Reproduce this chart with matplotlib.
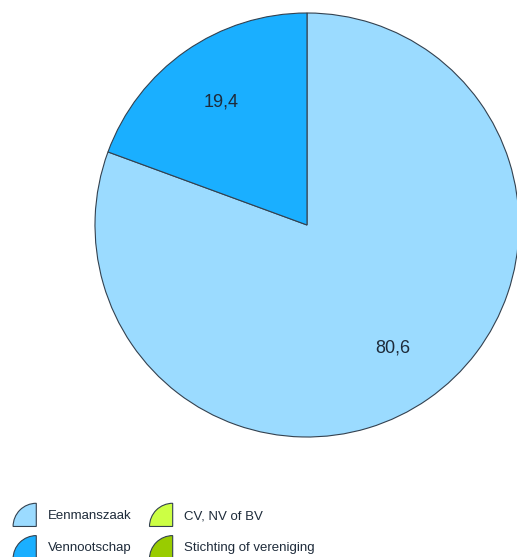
import matplotlib.pyplot as plt
from matplotlib.patches import Wedge, Patch
from matplotlib.legend_handler import HandlerPatch

plt.rcParams['font.family'] = ['Liberation Sans', 'DejaVu Sans']

categories = ['Eenmanszaak', 'Vennootschap', 'CV, NV of BV', 'Stichting of vereniging']
values = [80.6, 19.4, 0.0, 0.0]
colors = ['#9BDBFF', '#1AAFFF', '#CCFF44', '#99CC00']
edge = '#33414F'
text_col = '#1E2B3A'


class QuarterHandler(HandlerPatch):
    # legend symbool: kwartcirkel
    def create_artists(self, legend, orig_handle, xdescent, ydescent,
                       width, height, fontsize, trans):
        r = width * 0.95
        w = Wedge((xdescent + width, -ydescent - 2), r, 90, 180,
                  facecolor=orig_handle.get_facecolor(),
                  edgecolor=edge, lw=0.8, transform=trans)
        return [w]


fig = plt.figure(figsize=(5.17, 5.57), dpi=100)
ax = fig.add_axes([95 / 517, 120 / 557, 424 / 517, 424 / 557])

shown = [i for i, v in enumerate(values) if v > 0]
wedges, texts = ax.pie([values[i] for i in shown],
                       colors=[colors[i] for i in shown],
                       startangle=90, counterclock=False,
                       labels=[f"{values[i]:.1f}".replace('.', ',') for i in shown],
                       labeldistance=0.71,
                       wedgeprops=dict(edgecolor=edge, linewidth=0.8),
                       textprops=dict(fontsize=13, color=text_col))
for t in texts:
    t.set_horizontalalignment('center')
    t.set_verticalalignment('center')
for w in wedges:
    w.set_clip_on(False)
ax.set_xlim(-1, 1)
ax.set_ylim(-1, 1)
ax.set_aspect('equal')
ax.axis('off')

handles = [Patch(facecolor=c, edgecolor=edge) for c in colors]
fig.legend(handles, categories,
           ncol=2, loc='upper left', bbox_to_anchor=(0, 1 - 494 / 557),
           frameon=False, fontsize=9.5, labelcolor=text_col,
           handler_map={Patch: QuarterHandler()},
           handlelength=1.85, handleheight=1.7, handletextpad=0.85,
           columnspacing=1.3, labelspacing=1.1)

fig.savefig('out.png', dpi=100)
